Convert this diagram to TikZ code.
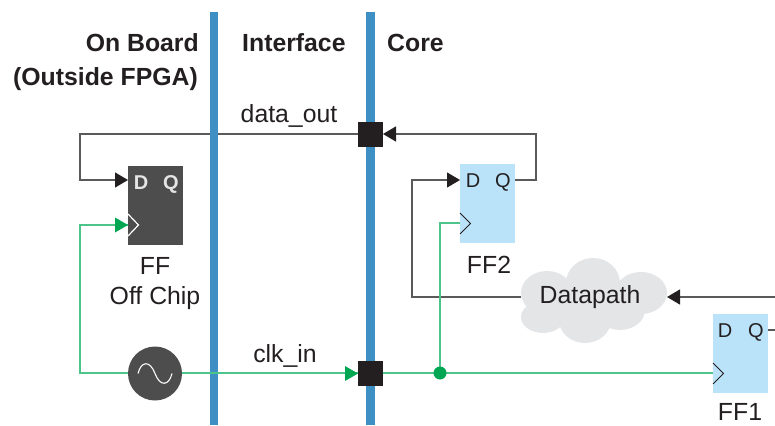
\documentclass[tikz,border=0pt]{standalone}
\usepackage{fontspec}
\setmainfont{Liberation Sans}
\usetikzlibrary{arrows.meta}
\definecolor{barblue}{HTML}{3D8FC4}
\definecolor{fflight}{HTML}{BAE3FA}
\definecolor{ffdark}{HTML}{4D4D4D}
\definecolor{clkgreen}{HTML}{00A651}
\definecolor{clkline}{HTML}{4CC48A}
\definecolor{wirecol}{HTML}{5A5A5A}
\definecolor{cloudgrey}{HTML}{E4E5E7}
\definecolor{padblack}{HTML}{231F20}
\definecolor{labelcol}{HTML}{231F20}
\tikzset{
  x=1pt,y=-1pt,
  bar/.style={line width=8.4pt,barblue},
  pad/.style={fill=padblack,minimum size=25pt,inner sep=0pt,outer sep=0pt},
  ffbox/.style={minimum width=55pt,minimum height=79pt,inner sep=0pt,outer sep=0pt},
  ffl/.style={ffbox,fill=fflight},
  ffd/.style={ffbox,fill=ffdark},
  lbl/.style={anchor=base,font=\fontsize{24.8}{24.8}\selectfont,text=labelcol,inner sep=0pt},
  head/.style={anchor=base,font=\fontsize{24.8}{24.8}\selectfont\bfseries,text=labelcol,inner sep=0pt},
  pin/.style={anchor=base,font=\fontsize{20}{20}\selectfont,inner sep=0pt,text=labelcol},
  pinb/.style={anchor=base,font=\fontsize{20}{20}\selectfont\bfseries,inner sep=0pt,text=white!90!black},
  wire/.style={line width=1.3pt,wirecol},
  clk/.style={line width=1.6pt,clkline},
  tipk/.style={-{Triangle[length=13pt,width=15pt,color=padblack]}},
  chev/.style={line width=1pt,padblack,line join=miter},
  chevw/.style={line width=1.2pt,white,line join=miter},
}
\begin{document}
\begin{tikzpicture}
\useasboundingbox (0,0) rectangle (775,425);
% free ends and pins
\coordinate (dl1) at (80,134);
\coordinate (dl2) at (80,180);
\coordinate (cl1) at (80,373);
\coordinate (cl2) at (80,225);
\coordinate (q1) at (536,180);
\coordinate (q2) at (536,134);
\coordinate (dp1) at (412,297);
\coordinate (dp2) at (412,180);
\coordinate (inr) at (775,297);
\coordinate (qr) at (775,330);
\coordinate (ffoD) at (128,180);
\coordinate (ffoC) at (128,225);
\coordinate (ff2D) at (460,180);
\coordinate (ff2Q) at (515,180);
\coordinate (ff2C) at (460,223);
\coordinate (ff1Q) at (768,330);
\coordinate (ff1C) at (713,373);
\coordinate (tap) at (440,373);
\coordinate (tapb) at (440,223);
% cloud
\fill[cloudgrey] (593,283) ellipse [x radius=27,y radius=25]
  (547,293) ellipse [x radius=26,y radius=22]
  (641,293) ellipse [x radius=26,y radius=21]
  (543,317) ellipse [x radius=22,y radius=16]
  (585,320) ellipse [x radius=26,y radius=23]
  (620,310) ellipse [x radius=25,y radius=20]
  (594,300) ellipse [x radius=50,y radius=18];
\node[minimum width=146pt,minimum height=84pt,inner sep=0pt,outer sep=0pt,font=\fontsize{24.8}{24.8}\selectfont,text=labelcol] (cloud) at (594,297) {\hspace*{-8pt}\raisebox{-3pt}{Datapath}};
% blocks
\node[ffd] (ffo) at (155.5,205.5) {};
\node[ffl] (ff2) at (487.5,203.5) {};
\node[ffl] (ff1) at (740.5,353.5) {};
\node[pad] (padt) at (370.5,134.5) {};
\node[pad] (padb) at (370.5,373.5) {};
\node[circle,fill=ffdark,minimum size=54pt,inner sep=0pt,outer sep=0pt] (osc) at (155,373.5) {};
% black wires
\draw[wire,tipk] (padt.west |- dl1) -- (dl1) -- (dl2) -- (ffoD);
\draw[wire,tipk] (ff2Q) -- (q1) -- (q2) -- (padt.east |- q2);
\draw[wire,tipk] (cloud.west) -- (dp1) -- (dp2) -- (ff2D);
\draw[wire,tipk] (inr) -- (cloud.east);
\draw[wire] (ff1Q) -- (qr);
% bars
\draw[bar] (214,12) -- (214,425);
\draw[bar] (370.5,12) -- (370.5,425);
\node[pad] at (padt) {};
\node[pad] at (padb) {};
% clock wires
\draw[clk] (osc.west |- cl1) -- (cl1) -- (cl2) -- (ffoC);
\fill[clkgreen] (ffoC) -- ++(-13,-7.5) -- ++(0,15) -- cycle;
\draw[clk] (osc.east |- cl1) -- (padb.west |- cl1);
\fill[clkgreen] (padb.west) -- ++(-13,-7.5) -- ++(0,15) -- cycle;
\draw[clk] (padb.east |- cl1) -- (ff1C);
\draw[clk] (tap) -- (tapb) -- (ff2C);
\node[circle,fill=clkgreen,minimum size=13pt,inner sep=0pt] (dot) at (tap) {};
% clock chevrons
\draw[chevw] (128,214) -- (138.5,225) -- (128,236);
\draw[chev] (460,213) -- (470.5,223.5) -- (460,234);
\draw[chev] (713,363) -- (723.5,373.5) -- (713,384);
% sine
\draw[white,line width=1.1pt] (138,373.5) .. controls (141,361) and (150,360) .. (155,373.5) .. controls (160,387) and (169,386) .. (172,373.5);
% pins
\node[pinb] at (141,189) {D};
\node[pinb] at (171,189) {Q};
\node[pin] at (473,187) {D};
\node[pin] at (503,187) {Q};
\node[pin] at (725,337) {D};
\node[pin] at (756,337) {Q};
% labels
\node[head,anchor=base east] at (199,52) {On Board};
\node[head,anchor=base east] at (198,85) {(Outside FPGA)};
\node[head,anchor=base west] at (242,52) {Interface};
\node[head,anchor=base west] at (387,52) {Core};
\node[lbl] at (289,122) {data\_out};
\node[lbl] at (285,362) {clk\_in};
\node[lbl] at (155,274) {FF};
\node[lbl] at (155,304) {Off Chip};
\node[lbl] at (489,273) {FF2};
\node[lbl] at (740,420) {FF1};
\end{tikzpicture}
\end{document}
